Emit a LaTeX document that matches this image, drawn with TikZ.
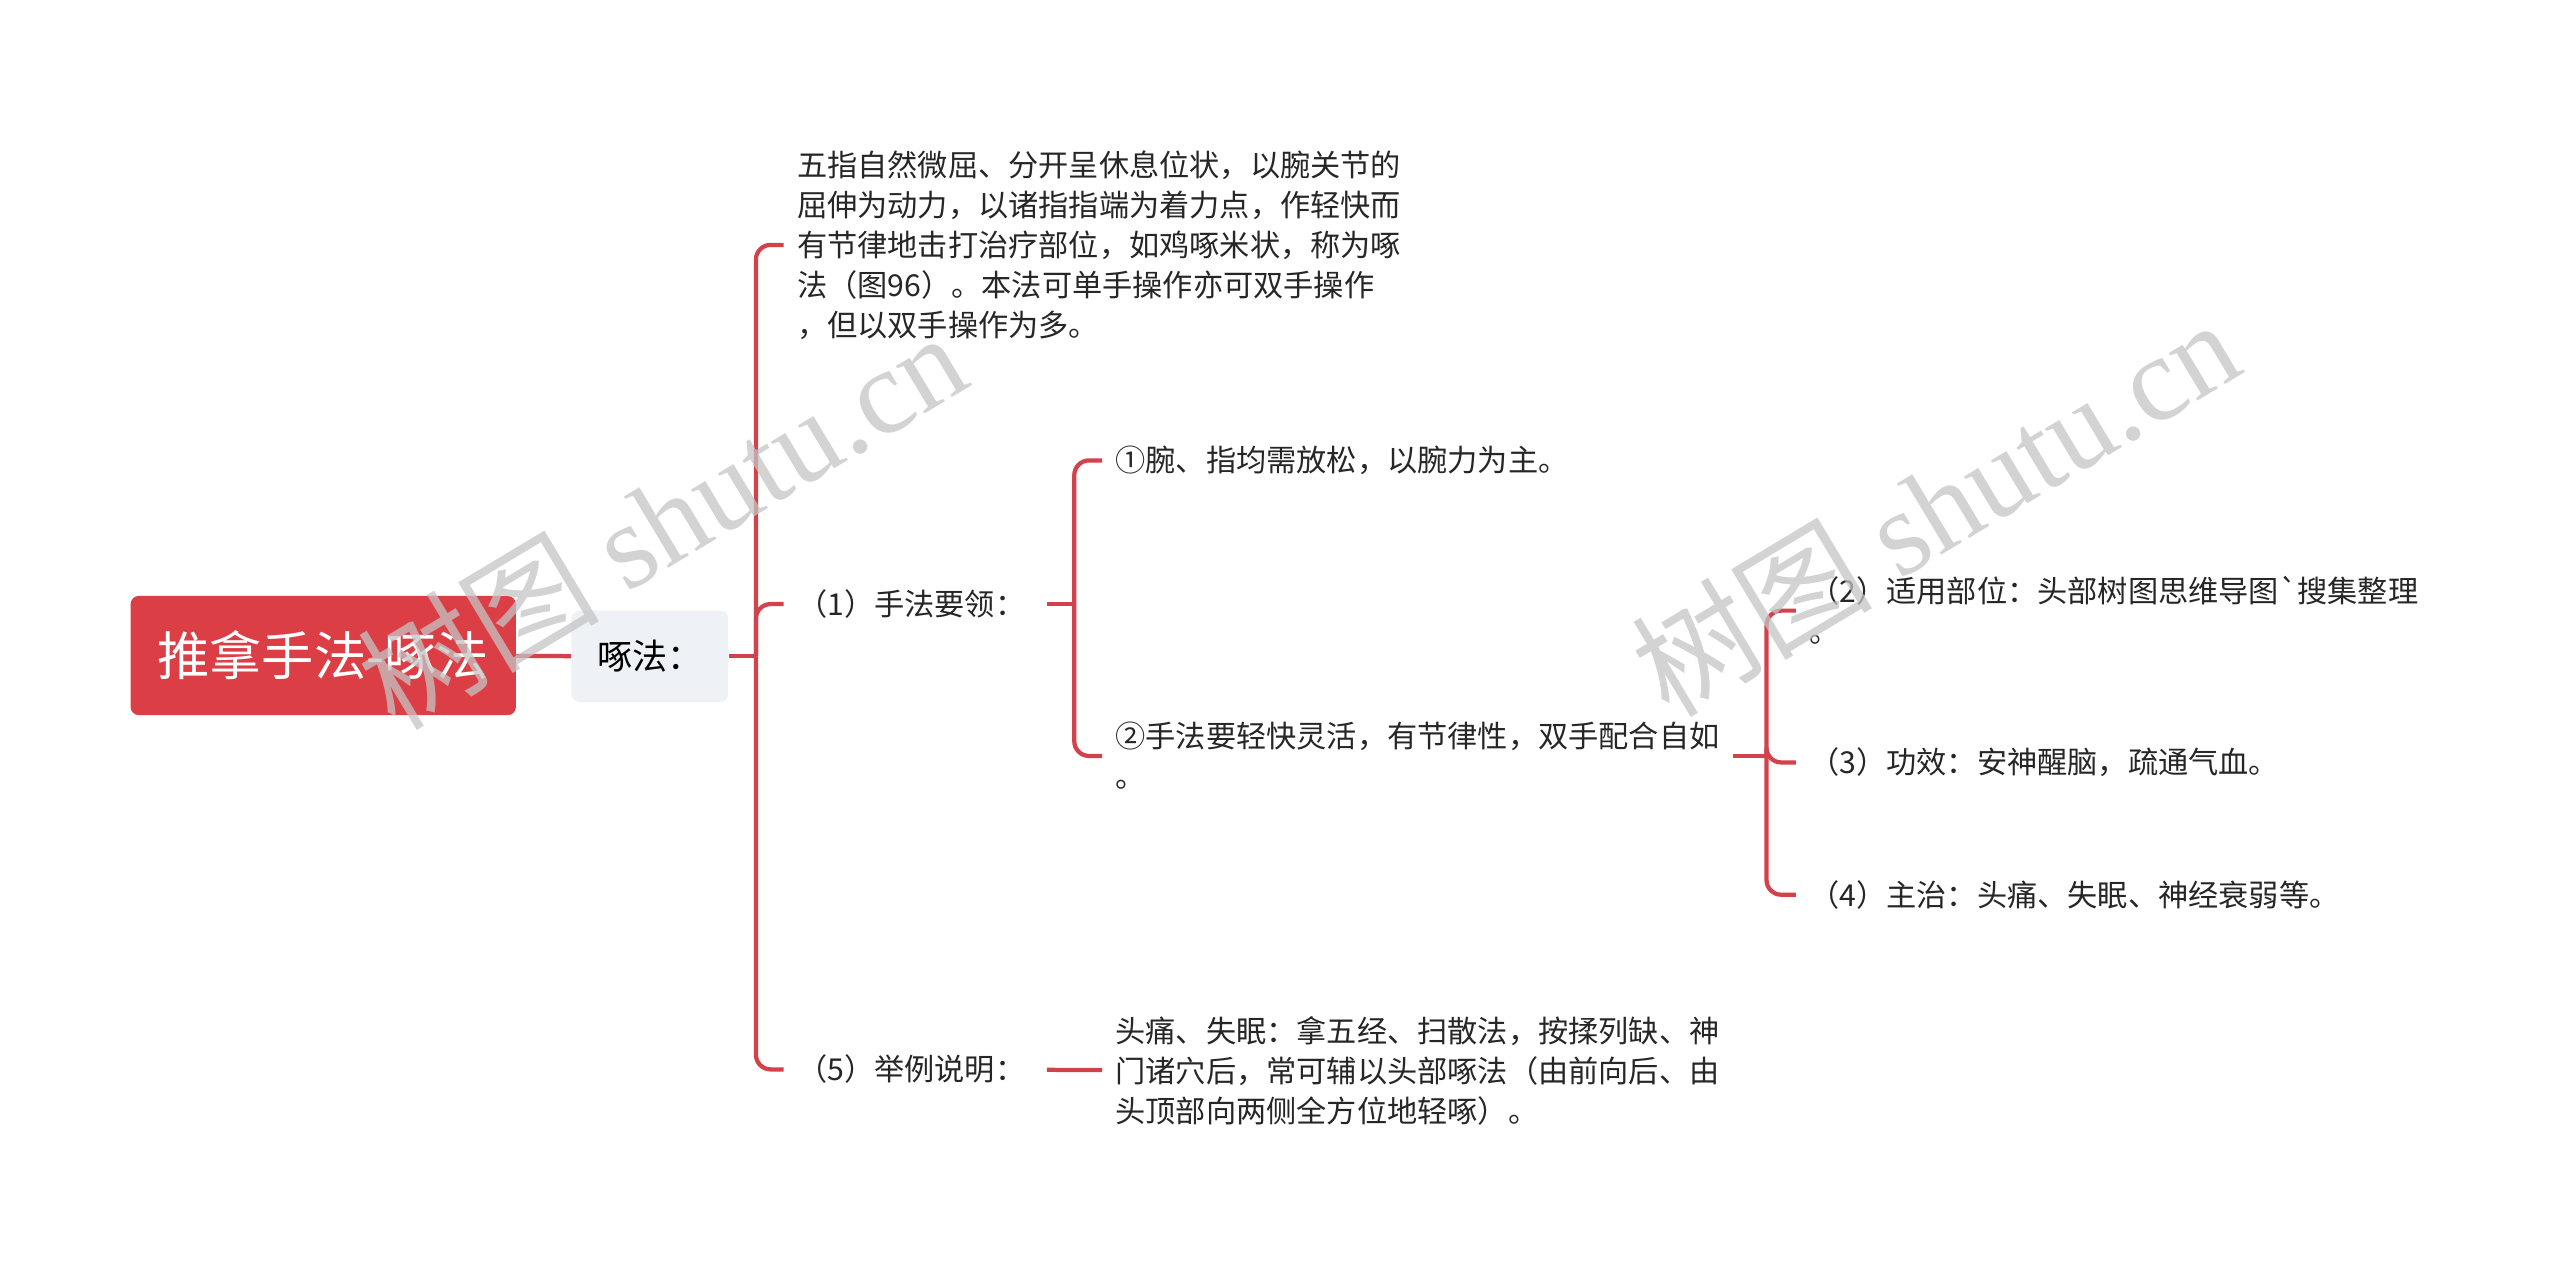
\documentclass[tikz,border=0pt]{standalone}
\usepackage{fontspec}
\setmainfont{Noto Sans CJK SC}[Ligatures=TeXOff]
\newfontfamily\wmfont{Liberation Serif}
\definecolor{rootred}{RGB}{220, 62, 70}
\definecolor{linkred}{RGB}{211, 65, 75}
\definecolor{boxgray}{RGB}{238, 241, 245}
\definecolor{markgray}{RGB}{196, 196, 196}

\begin{document}
\begin{tikzpicture}[x=1pt, y=-1pt,
	link/.style={line width=2.6pt, linkred, rounded corners=9pt},
	rootbox/.style={fill=rootred, rounded corners=5pt, text=white, font=\fontsize{32}{38}\selectfont, minimum width=236pt, minimum height=73pt},
	midbox/.style={fill=boxgray, rounded corners=5pt, font=\fontsize{21.5}{24}\selectfont, minimum width=96pt, minimum height=56pt},
	leaf/.style={anchor=west, align=left, inner xsep=8pt, inner ysep=0pt, text=black!85, font=\fontsize{18.5}{24.5}\selectfont},
	wmark/.style={text=markgray, opacity=0.75, rotate=31, font=\fontsize{74}{74}\selectfont}]
	\useasboundingbox (0,0) rectangle (1568,780);

	\node[rootbox] (root) at (198,401.5) {推拿手法-啄法};
	\node[midbox] (zf) at (398,402) {啄法：};

	% first level
	\coordinate (t0) at (463,402);
	\node[leaf] (desc) at (480,150) {五指自然微屈、分开呈休息位状，以腕关节的\\屈伸为动力，以诸指指端为着力点，作轻快而\\有节律地击打治疗部位，如鸡啄米状，称为啄\\法（图96）。本法可单手操作亦可双手操作\\，但以双手操作为多。};
	\node[leaf] (yl) at (480,370) {（1）手法要领：};
	\node[leaf] (jl) at (480,655) {（5）举例说明：};

	% (1)
	\coordinate (t1) at (658,370);
	\node[leaf] (p1) at (675,282) {①腕、指均需放松，以腕力为主。};
	\node[leaf] (p2) at (675,463) {②手法要轻快灵活，有节律性，双手配合自如\\。};

	\coordinate (t2) at (1082,463);
	\node[leaf] (s2) at (1100,374) {（2）适用部位：头部树图思维导图`搜集整理\\。};
	\node[leaf] (s3) at (1100,467) {（3）功效：安神醒脑，疏通气血。};
	\node[leaf] (s4) at (1100,548) {（4）主治：头痛、失眠、神经衰弱等。};

	% (5)
	\node[leaf] (ex) at (675,656) {头痛、失眠：拿五经、扫散法，按揉列缺、神\\门诸穴后，常可辅以头部啄法（由前向后、由\\头顶部向两侧全方位地轻啄）。};

	\draw[link] (root) -- (zf);
	\draw[link] (zf) -- (t0);
	\foreach \n in {desc,yl,jl} \draw[link] (t0) |- (\n.west);
	\draw[link, shorten <=5pt] (yl) -- (t1);
	\foreach \n in {p1,p2} \draw[link] (t1) |- (\n.west);
	\draw[link] (p2) -- (t2);
	\foreach \n in {s2,s3,s4} \draw[link] (t2) |- (\n.west);
	\draw[link, shorten <=5pt] (jl) -- (ex);

	\node[wmark] (wm1) at (405,318) {树图 {\wmfont shutu.cn}};
	\node[wmark] (wm2) at (1185,310) {树图 {\wmfont shutu.cn}};
\end{tikzpicture}
\end{document}
